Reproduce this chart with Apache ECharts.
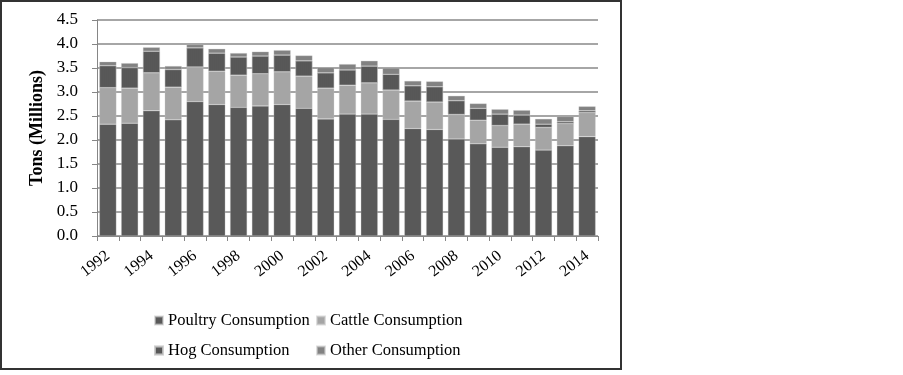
<!DOCTYPE html>
<html>
<head>
<meta charset="utf-8">
<script src="https://cdn.jsdelivr.net/npm/echarts@6/dist/echarts.min.js"></script>
<style>
html,body{margin:0;padding:0;background:#fff;}
#chart{width:903px;height:375px;}
</style>
</head>
<body>
<div id="chart"></div>
<script>
var years = ['1992','1993','1994','1995','1996','1997','1998','1999','2000','2001','2002','2003','2004','2005','2006','2007','2008','2009','2010','2011','2012','2013','2014'];
var poultry = [2.33,2.35,2.61,2.42,2.80,2.74,2.68,2.71,2.74,2.66,2.44,2.54,2.54,2.43,2.24,2.22,2.02,1.92,1.85,1.86,1.79,1.88,2.07];
var cattle  = [0.76,0.73,0.79,0.68,0.72,0.69,0.67,0.67,0.68,0.67,0.64,0.60,0.65,0.61,0.57,0.57,0.51,0.49,0.45,0.47,0.47,0.46,0.50];
var hog     = [0.46,0.43,0.45,0.37,0.40,0.38,0.38,0.37,0.35,0.32,0.32,0.32,0.35,0.33,0.32,0.32,0.29,0.25,0.24,0.19,0.07,0.04,0.04];
var other   = [0.08,0.09,0.08,0.07,0.07,0.09,0.08,0.09,0.10,0.11,0.11,0.12,0.11,0.13,0.10,0.11,0.10,0.10,0.10,0.10,0.11,0.11,0.09];
var yTicks = ['0.0','0.5','1.0','1.5','2.0','2.5','3.0','3.5','4.0','4.5'];

var font = '"Liberation Serif", "Times New Roman", serif';
var chart = echarts.init(document.getElementById('chart'));
function mk(name, data, color, decal){
  var s = {name:name, type:'bar', stack:'total', data:data, barCategoryGap:'22%',
    itemStyle:{color:color, borderColor:'rgba(200,200,200,0.6)', borderWidth:0.5}};
  if (decal) s.itemStyle.decal = decal;
  return s;
}
chart.setOption({
  animation:false,
  aria:{enabled:false},
  grid:{left:97, right:305, top:20, bottom:139},
  graphic:[{type:'rect', shape:{x:1, y:1, width:620, height:368}, style:{fill:'none', stroke:'#333', lineWidth:2}, silent:true}],
  legend:[
    {data:['Poultry Consumption','Hog Consumption'], orient:'vertical', left:149, top:307, itemWidth:8, itemHeight:8, itemGap:13,
     textStyle:{fontFamily:font, fontSize:16.5, color:'#000'}, icon:'rect'},
    {data:['Cattle Consumption','Other Consumption'], orient:'vertical', left:311, top:307, itemWidth:8, itemHeight:8, itemGap:13,
     textStyle:{fontFamily:font, fontSize:16.5, color:'#000'}, icon:'rect'}
  ],
  xAxis:{type:'category', data:years,
    axisLine:{lineStyle:{color:'#868686', width:1}},
    axisTick:{show:true, alignWithLabel:false, interval:0, length:5, lineStyle:{color:'#868686'}},
    axisLabel:{interval:1, rotate:38, fontFamily:font, fontSize:16, color:'#000', margin:18}
  },
  yAxis:{type:'value', min:0, max:4.5, interval:0.5,
    name:'Tons (Millions)', nameLocation:'middle', nameGap:42, nameRotate:90,
    nameTextStyle:{fontFamily:font, fontSize:18, fontWeight:'bold', color:'#000'},
    axisLine:{show:true, lineStyle:{color:'#868686'}},
    axisTick:{show:true, length:5, lineStyle:{color:'#868686'}},
    splitLine:{lineStyle:{color:'#a6a6a6', width:2}},
    axisLabel:{fontFamily:font, fontSize:17, color:'#000', margin:19,
      formatter:function(v){ return yTicks[Math.round(v/0.5)]; }}
  },
  series:[
    mk('Poultry Consumption', poultry, '#595959'),
    mk('Cattle Consumption', cattle, '#a5a5a5'),
    mk('Hog Consumption', hog, '#4f4f4f', {symbol:'rect', symbolSize:0.6, dashArrayX:[2,0], dashArrayY:[2,0], color:'rgba(140,140,140,0.5)'}),
    mk('Other Consumption', other, '#828282')
  ]
});
</script>
</body>
</html>
